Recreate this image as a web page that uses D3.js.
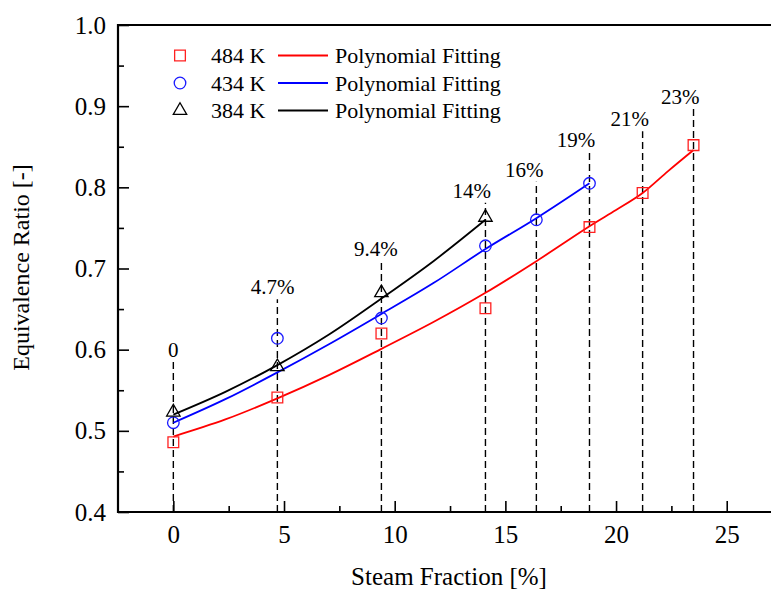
<!DOCTYPE html>
<html>
<head>
<meta charset="utf-8">
<script src="https://cdn.jsdelivr.net/npm/d3@7"></script>
<style>
  body { margin: 0; background: #fff; }
</style>
</head>
<body>
<svg id="chart" width="771" height="595"></svg>
<script>
// measured points
let steam = [0, 4.7, 9.4, 14.1, 16.4, 18.8, 21.2, 23.5]

let x484 = [0, 4.7, 9.4, 14.1, 18.8, 21.2, 23.5]
let y484 = [0.486, 0.541, 0.620, 0.651, 0.751, 0.793, 0.852]

let x434 = [0, 4.7, 9.4, 14.1, 16.4, 18.8]
let y434 = [0.510, 0.614, 0.639, 0.728, 0.760, 0.805]

let x384 = [0, 4.7, 9.4, 14.1]
let y384 = [0.523, 0.579, 0.670, 0.763]

// fitted curves
let fitX484 = [0, 2.35, 4.7, 7.05, 9.4, 11.75, 14.1, 16.4, 18.8, 20, 21.2, 22.35, 23.5]
let fitY484 = [0.493, 0.514, 0.540, 0.569, 0.601, 0.634, 0.670, 0.709, 0.752, 0.772, 0.793, 0.820, 0.846]
let fitX434 = [0, 2.35, 4.7, 7.05, 9.4, 11.75, 14.1, 16.4, 18.8]
let fitY434 = [0.510, 0.539, 0.572, 0.607, 0.644, 0.682, 0.724, 0.762, 0.805]
let fitX384 = [0, 2.35, 4.7, 7.05, 9.4, 11.75, 14.1]
let fitY384 = [0.520, 0.548, 0.581, 0.619, 0.663, 0.709, 0.760]

// dashed guide annotations
let guideLabels = ['0', '4.7%', '9.4%', '14%', '16%', '19%', '21%', '23%']
let guideTop = [0.585, 0.662, 0.709, 0.781, 0.807, 0.844, 0.869, 0.897]
let guideLabelX = [0, 4.49, 9.15, 13.48, 15.85, 18.19, 20.62, 22.9]

let xTicks = [0, 5, 10, 15, 20, 25]
let yTicks = [0.4, 0.5, 0.6, 0.7, 0.8, 0.9, 1.0]

let seriesNames = ['484 K', '434 K', '384 K']
let fitName = 'Polynomial Fitting'

let serif = '"Liberation Serif", "DejaVu Serif", "Times New Roman", Times, serif'

let svg = d3.select('#chart')

let mLeft = 118
let mRight = 771
let mTop = 25
let mBottom = 512

let xScale = d3.scaleLinear().domain([-2.5, 27.0]).range([mLeft, mRight])
let yScale = d3.scaleLinear().domain([0.4, 1.0]).range([mBottom, mTop])

// dashed guides
svg.selectAll('.guide')
  .data(steam)
  .enter()
  .append('line')
  .attr('x1', d => xScale(d))
  .attr('x2', d => xScale(d))
  .attr('y1', yScale(0.4))
  .attr('y2', (d, i) => yScale(guideTop[i]))
  .attr('stroke', '#000')
  .attr('stroke-width', 1.4)
  .attr('stroke-dasharray', '7,4')

svg.selectAll('.guide-label')
  .data(guideLabels)
  .enter()
  .append('text')
  .attr('x', (d, i) => xScale(guideLabelX[i]))
  .attr('y', (d, i) => yScale(guideTop[i]) - 5)
  .attr('text-anchor', 'middle')
  .attr('font-size', 21)
  .text(d => d)

// axes
let xAxis = d3.axisBottom(xScale)
  .tickValues(xTicks)
  .tickSize(-11)
  .tickPadding(13)
  .tickFormat(d3.format('d'))

let xMinor = d3.axisBottom(xScale)
  .tickValues([2.5, 7.5, 12.5, 17.5, 22.5])
  .tickSize(-6)
  .tickFormat('')

let yAxis = d3.axisLeft(yScale)
  .tickValues(yTicks)
  .tickSize(-11)
  .tickPadding(12)
  .tickFormat(d3.format('.1f'))

let yMinor = d3.axisLeft(yScale)
  .tickValues([0.45, 0.55, 0.65, 0.75, 0.85, 0.95])
  .tickSize(-6)
  .tickFormat('')

svg.append('g').attr('transform', `translate(0,${mBottom})`).call(xAxis)
svg.append('g').attr('transform', `translate(0,${mBottom})`).call(xMinor)
svg.append('g').attr('transform', `translate(${mLeft},0)`).call(yAxis)
svg.append('g').attr('transform', `translate(${mLeft},0)`).call(yMinor)

svg.selectAll('.domain').remove()
svg.selectAll('.tick line').attr('stroke', '#000').attr('stroke-width', 1.6)
svg.selectAll('.tick text')
  .attr('font-size', 25)
  .attr('fill', '#000')

// frame
svg.append('path')
  .attr('d', `M${mRight},${mTop}H${mLeft}V${mBottom}H${mRight}`)
  .attr('fill', 'none')
  .attr('stroke', '#000')
  .attr('stroke-width', 2.2)

// fits
let line = d3.line()
  .x(d => xScale(d[0]))
  .y(d => yScale(d[1]))
  .curve(d3.curveCatmullRom.alpha(0.5))

let fits = [
  { xs: fitX484, ys: fitY484, color: '#ff0000' },
  { xs: fitX434, ys: fitY434, color: '#0000ff' },
  { xs: fitX384, ys: fitY384, color: '#000000' }
]

fits.forEach(f => {
  svg.append('path')
    .datum(d3.zip(f.xs, f.ys))
    .attr('d', line)
    .attr('fill', 'none')
    .attr('stroke', f.color)
    .attr('stroke-width', 1.8)
})

// markers
let markers = [
  { xs: x484, ys: y484, color: '#ff2020', type: d3.symbolSquare, size: 115 },
  { xs: x434, ys: y434, color: '#1a1aff', type: d3.symbolCircle, size: 105 },
  { xs: x384, ys: y384, color: '#000000', type: d3.symbolTriangle, size: 78 }
]

markers.forEach(m => {
  svg.selectAll(null)
    .data(d3.zip(m.xs, m.ys))
    .enter()
    .append('path')
    .attr('d', d3.symbol().type(m.type).size(m.size))
    .attr('transform', d => `translate(${xScale(d[0])},${yScale(d[1])})`)
    .attr('fill', 'none')
    .attr('stroke', m.color)
    .attr('stroke-width', 1.3)
})

// legend
let legend = svg.append('g')
markers.forEach((m, i) => {
  let cy = 55.5 + i * 27.5
  legend.append('path')
    .attr('d', d3.symbol().type(m.type).size(m.size))
    .attr('transform', `translate(180,${cy})`)
    .attr('fill', 'none')
    .attr('stroke', m.color)
    .attr('stroke-width', 1.3)
  legend.append('text')
    .attr('x', 211)
    .attr('y', cy + 7.5)
    .attr('font-size', 22)
    .text(seriesNames[i])
  legend.append('line')
    .attr('x1', 278)
    .attr('x2', 328)
    .attr('y1', cy)
    .attr('y2', cy)
    .attr('stroke', fits[i].color)
    .attr('stroke-width', 1.8)
  legend.append('text')
    .attr('x', 335)
    .attr('y', cy + 7.5)
    .attr('font-size', 22)
    .text(fitName)
})

// titles
svg.append('text')
  .attr('x', 449)
  .attr('y', 585)
  .attr('text-anchor', 'middle')
  .attr('font-size', 25)
  .text('Steam Fraction [%]')

svg.append('text')
  .attr('transform', 'translate(29,267.5) rotate(-90)')
  .attr('text-anchor', 'middle')
  .attr('font-size', 24)
  .text('Equivalence Ratio [-]')

// same face everywhere
svg.selectAll('text')
  .style('font-family', serif)
  .style('fill', '#000')
</script>
</body>
</html>
